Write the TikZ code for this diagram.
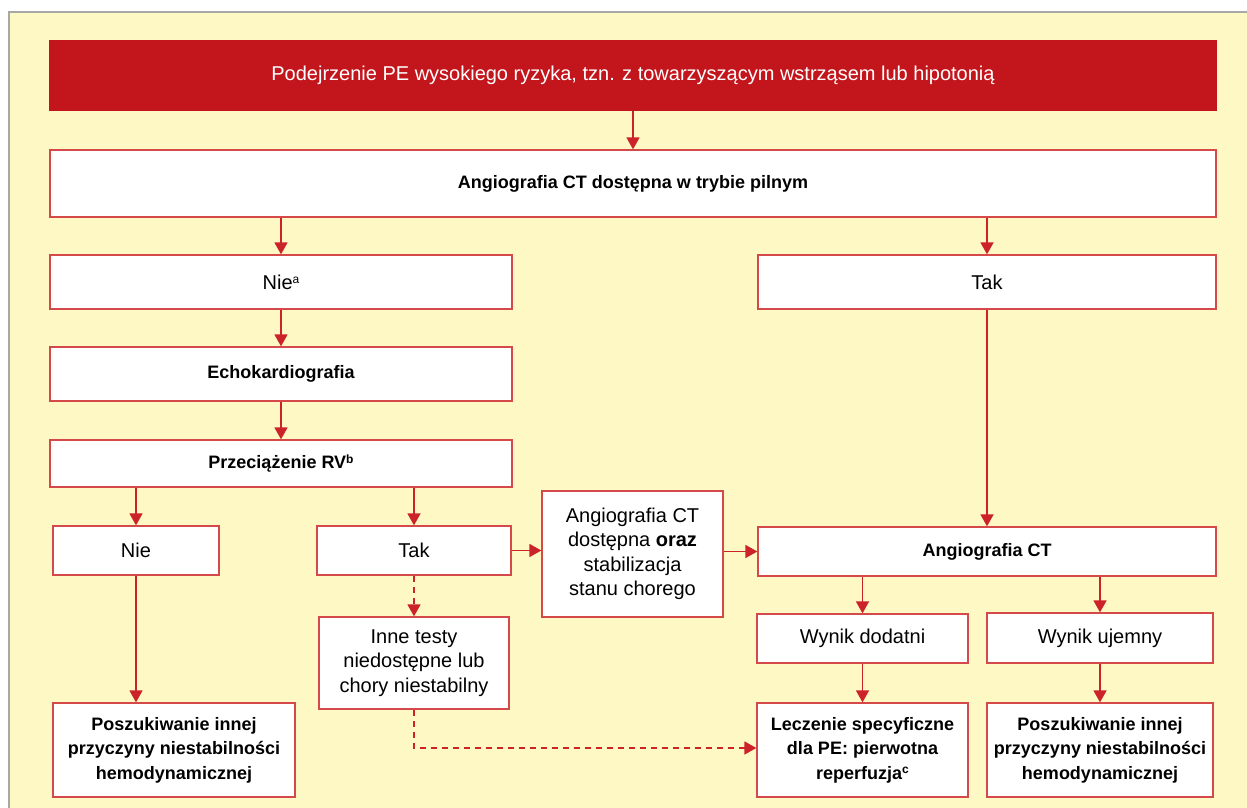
\documentclass[tikz,border=0pt]{standalone}
\usepackage{fontspec}
\setmainfont{Liberation Sans}
\usetikzlibrary{arrows.meta,positioning,calc}
\definecolor{pered}{HTML}{C3161C}
\definecolor{peline}{HTML}{CC2229}
\definecolor{pebox}{HTML}{D5494B}
\definecolor{peyel}{HTML}{FEF8C4}
\definecolor{pegray}{HTML}{A8A8A8}
\newcommand{\fnmark}[1]{\raisebox{0.55ex}{\fontsize{12}{12}\selectfont #1}}
\begin{document}
\begin{tikzpicture}[
    x=1pt,y=-1pt,
    font=\fontsize{20}{24.5}\selectfont,
    box/.style={draw=pebox,fill=white,line width=1.3pt,
        inner sep=2pt,align=center},
    bbox/.style={box,font=\fontsize{18}{24.5}\selectfont\bfseries},
    hbox/.style={box,fill=pered,draw=pered,text=white},
    arr/.style={draw=peline,line width=1.6pt,
        -{Triangle[length=12pt,width=13pt]}},
    darr/.style={arr,dash pattern=on 6pt off 5pt},
    ]
    \useasboundingbox (0,0) rectangle (1247,808);
    % background panel
    \fill[peyel] (9,12) rectangle (1247,808);
    \draw[pegray,line width=1.2pt] (9,808) -- (9,12) -- (1247,12);

    % top row
    \node[hbox,minimum width=1166pt,minimum height=69pt] (susp) at (633,75.5)
        {Podejrzenie PE wysokiego ryzyka, tzn. z towarzyszącym wstrząsem lub hipotonią};
    \node[bbox,minimum width=1166pt,minimum height=67pt] (ctq) at (633,183.5)
        {Angiografia CT dostępna w trybie pilnym};

    % left branch
    \node[box,minimum width=462pt,minimum height=54pt] (nieA) at (281,282)
        {Nie\fnmark{a}};
    \node[bbox,minimum width=462pt,minimum height=54pt] (echo) at (281,374)
        {Echokardiografia};
    \node[bbox,minimum width=462pt,minimum height=47pt] (rv) at (281,463.5)
        {Przeciążenie RV\fnmark{b}};
    \node[box,minimum width=166pt,minimum height=49pt] (nieB) at (136,550.5) {Nie};
    \node[box,minimum width=194pt,minimum height=49pt] (takB) at (414,550.5) {Tak};
    \node[box,minimum width=190pt,minimum height=92pt] (inne) at (414,663)
        {Inne testy\\niedostępne lub\\chory niestabilny};
    \node[bbox,minimum width=242pt,minimum height=94pt] (posL) at (174,750)
        {Poszukiwanie innej\\przyczyny niestabilności\\hemodynamicznej};
    \node[box,minimum width=181pt,minimum height=126pt] (ctok) at (632.5,554)
        {Angiografia CT\\dostępna \textbf{oraz}\\stabilizacja\\stanu chorego};

    % right branch
    \node[box,minimum width=458pt,minimum height=54pt] (takA) at (987,282) {Tak};
    \node[bbox,minimum width=458pt,minimum height=49pt] (ct) at (987,551.5)
        {Angiografia CT};
    \node[box,minimum width=211pt,minimum height=49pt] (pos) at (862.5,638.5) {Wynik dodatni};
    \node[box,minimum width=226pt,minimum height=50pt] (neg) at (1100,638) {Wynik ujemny};
    \node[bbox,minimum width=211pt,minimum height=94pt] (treat) at (862.5,750)
        {Leczenie specyficzne\\dla PE: pierwotna\\reperfuzja\fnmark{c}};
    \node[bbox,minimum width=226pt,minimum height=94pt] (posR) at (1100,750)
        {Poszukiwanie innej\\przyczyny niestabilności\\hemodynamicznej};

    % connectors
    \draw[arr] (susp) -- (ctq);
    \draw[arr] (ctq.south -| nieA) -- (nieA);
    \draw[arr] (ctq.south -| takA) -- (takA);
    \draw[arr] (nieA) -- (echo);
    \draw[arr] (echo) -- (rv);
    \draw[arr] (rv.south -| nieB) -- (nieB);
    \draw[arr] (rv.south -| takB) -- (takB);
    \draw[arr] (nieB) -- (nieB |- posL.north);
    \draw[arr] (takB) -- (takB -| ctok.west);
    \draw[arr] (ctok.east |- ct) -- (ct);
    \draw[arr] (takA) -- (ct);
    \draw[darr] (takB) -- (inne);
    \draw[darr] (inne.south) |- ($(treat.west)+(0,-2)$);
    \draw[arr] (ct.south -| pos) -- (pos);
    \draw[arr] (ct.south -| neg) -- (neg);
    \draw[arr] (pos) -- (treat);
    \draw[arr] (neg) -- (posR);
\end{tikzpicture}
\end{document}
